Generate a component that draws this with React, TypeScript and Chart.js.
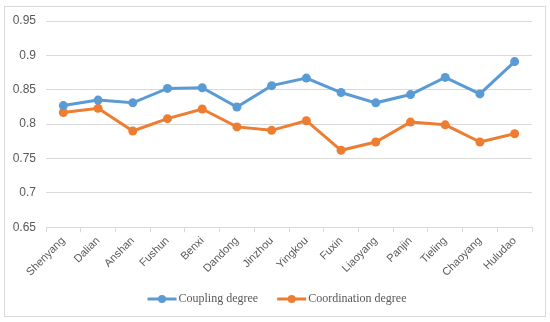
import React, { useEffect, useRef } from "react";
import { Chart, registerables } from "chart.js";

Chart.register(...registerables);

const cities = [
  "Shenyang", "Dalian", "Anshan", "Fushun", "Benxi", "Dandong", "Jinzhou",
  "Yingkou", "Fuxin", "Liaoyang", "Panjin", "Tieling", "Chaoyang", "Huludao",
];
const couplingDegree = [
  0.827, 0.835, 0.831, 0.852, 0.853, 0.825, 0.856,
  0.867, 0.846, 0.831, 0.843, 0.868, 0.844, 0.891,
];
const coordinationDegree = [
  0.817, 0.823, 0.790, 0.808, 0.822, 0.796, 0.791,
  0.805, 0.762, 0.774, 0.803, 0.799, 0.774, 0.786,
];
const yMin = 0.65;
const yMax = 0.95;
const yStep = 0.05;

const BLUE = "#5B9BD5";
const ORANGE = "#ED7D31";
const GRID = "#D9D9D9";
const TEXT = "#595959";

const framePlugin = {
  id: "frame",
  beforeDraw(chart: any) {
    const ctx = chart.ctx;
    ctx.save();
    ctx.fillStyle = "#ffffff";
    ctx.fillRect(0, 0, chart.width, chart.height);
    ctx.strokeStyle = GRID;
    ctx.lineWidth = 1;
    ctx.strokeRect(4.5, 6.5, 541, 310);
    ctx.restore();
  },
};

const legendPlugin = {
  id: "customLegend",
  afterDraw(chart: any) {
    const ctx = chart.ctx;
    const ds = chart.data.datasets;
    ctx.save();
    ctx.font = "12px 'Liberation Serif', serif";
    ctx.textBaseline = "middle";
    const lineLen = 29;
    const gapText = 2;
    const gapItems = 19;
    const widths = ds.map((d: any) => lineLen + gapText + ctx.measureText(d.label).width);
    const total = widths.reduce((a: number, b: number) => a + b, 0) + gapItems * (ds.length - 1);
    let x = chart.width / 2 + 2 - total / 2;
    const y = 299;
    ds.forEach((d: any, i: number) => {
      ctx.strokeStyle = d.borderColor;
      ctx.lineWidth = 3;
      ctx.beginPath();
      ctx.moveTo(x, y);
      ctx.lineTo(x + lineLen, y);
      ctx.stroke();
      ctx.fillStyle = d.borderColor;
      ctx.beginPath();
      ctx.arc(x + lineLen / 2, y, 4, 0, Math.PI * 2);
      ctx.fill();
      ctx.fillStyle = TEXT;
      ctx.textAlign = "left";
      ctx.fillText(d.label, x + lineLen + gapText, y);
      x += widths[i] + gapItems;
    });
    ctx.restore();
  },
};

export default function App() {
  const ref = useRef<HTMLCanvasElement | null>(null);

  useEffect(() => {
    document.body.style.margin = "0";
    const canvas = ref.current!;
    const chart = new Chart(canvas, {
      type: "line",
      data: {
        labels: cities,
        datasets: [
          {
            label: "Coupling degree",
            data: couplingDegree,
            borderColor: BLUE,
            backgroundColor: BLUE,
            borderWidth: 3,
            pointRadius: 4.5,
            pointHoverRadius: 4.5,
            pointBorderWidth: 0,
            tension: 0,
          },
          {
            label: "Coordination degree",
            data: coordinationDegree,
            borderColor: ORANGE,
            backgroundColor: ORANGE,
            borderWidth: 3,
            pointRadius: 4.5,
            pointHoverRadius: 4.5,
            pointBorderWidth: 0,
            tension: 0,
          },
        ],
      },
      options: {
        animation: false,
        responsive: false,
        maintainAspectRatio: false,
        layout: { padding: { left: 10, right: 18, top: 21, bottom: 0 } },
        plugins: {
          legend: { display: false },
          tooltip: { enabled: false },
        },
        scales: {
          x: {
            type: "category",
            offset: true,
            grid: {
              display: true,
              drawOnChartArea: false,
              drawTicks: true,
              tickLength: 5,
              offset: true,
              color: GRID,
            },
            border: { display: true, color: GRID },
            ticks: {
              autoSkip: false,
              minRotation: 45,
              maxRotation: 45,
              padding: 2,
              color: TEXT,
              font: { family: "'Liberation Sans', Arial, sans-serif", size: 11 },
            },
            afterFit(scale: any) {
              scale.height = 94.7;
            },
          },
          y: {
            min: yMin,
            max: yMax,
            grid: { color: GRID, drawTicks: false },
            border: { display: false },
            ticks: {
              stepSize: yStep,
              padding: 10,
              color: TEXT,
              font: { family: "'Liberation Sans', Arial, sans-serif", size: 12 },
              callback: (v: any) => String(Number(Number(v).toFixed(2))),
            },
            afterFit(scale: any) {
              scale.width = 36;
            },
          },
        },
      },
      plugins: [framePlugin, legendPlugin],
    });
    return () => chart.destroy();
  }, []);

  return (
    <div style={{ width: 550, height: 322 }}>
      <canvas ref={ref} width={550} height={322} style={{ display: "block" }} />
    </div>
  );
}
